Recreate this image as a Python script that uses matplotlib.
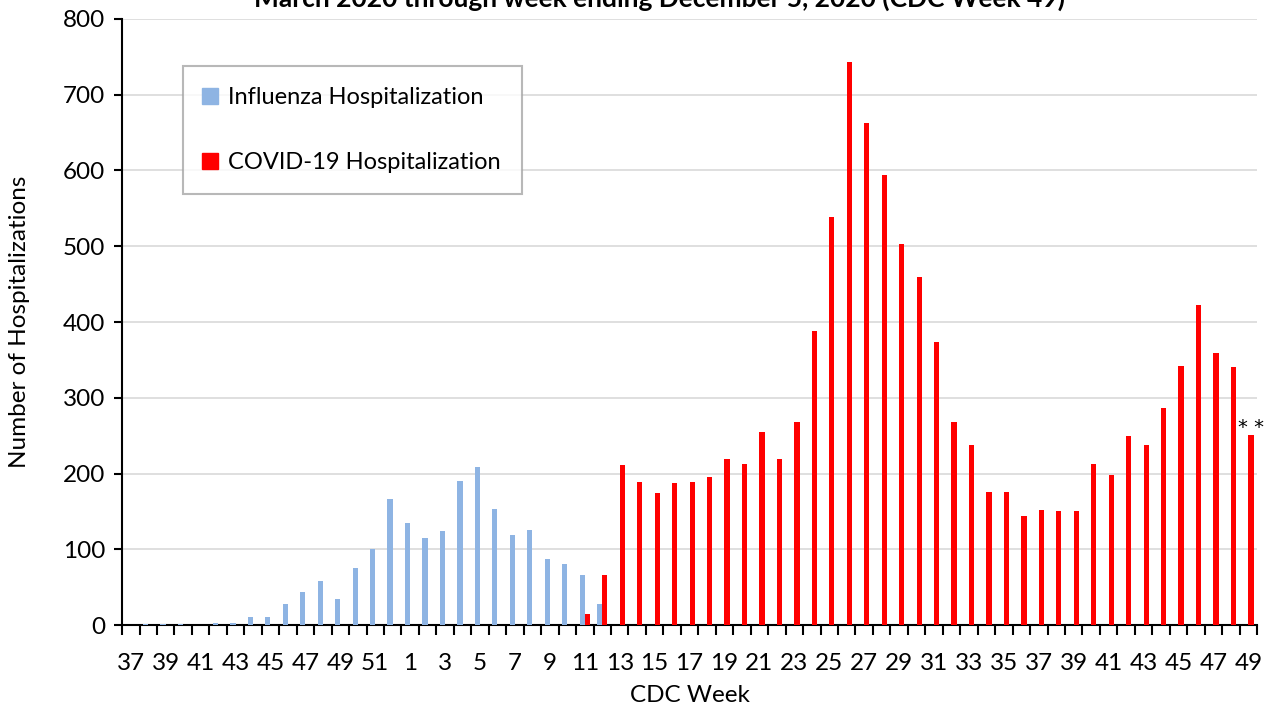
import matplotlib.pyplot as plt
import numpy as np
from matplotlib.lines import Line2D

# CDC weeks: 37-52 of 2019, then 1-49 of 2020
weeks_2019 = list(range(37, 53))
weeks_2020 = list(range(1, 50))
week_labels = [str(w) for w in weeks_2019 + weeks_2020]

# Influenza hospitalizations, week 37 (2019) through week 12 (2020)
flu_values = [0, 2, 1, 2, 0, 3, 3, 10, 10, 28, 44, 58, 34, 75, 101, 166,
              135, 115, 124, 190, 208, 153, 119, 126, 87, 80, 66, 28]

# COVID-19 hospitalizations, week 11 through week 49 (2020)
covid_first_week = 11
covid_values = [14, 66, 211, 189, 174, 187, 189, 195, 219, 212, 255, 219, 268,
                388, 539, 743, 663, 594, 503, 460, 373, 268, 237, 175, 176,
                144, 152, 151, 151, 212, 198, 250, 238, 286, 342, 423, 359,
                340, 251]

title = 'March 2020 through week ending December 5, 2020 (CDC Week 49)'

plt.rcParams['font.family'] = ['Lato', 'DejaVu Sans']

n = len(week_labels)
x = np.arange(n)
flu_x = x[:len(flu_values)]
covid_start = len(weeks_2019) + covid_first_week - 1
covid_x = x[covid_start:covid_start + len(covid_values)]

fig = plt.figure(figsize=(12.78, 7.06), dpi=100)
ax = fig.add_axes([0.0955, 0.1147, 0.8881, 0.8584])

blue = '#8EB4E3'
red = '#FF0000'
w = 0.3
ax.bar(flu_x - 0.15, flu_values, width=w, color=blue, zorder=3)
ax.bar(covid_x + 0.15, covid_values, width=w, color=red, zorder=3)

# note on the last (incomplete) week
ax.text(covid_x[-1] + 0.15, covid_values[-1] - 3, '* *', ha='center', va='bottom',
        fontsize=14, family='DejaVu Sans')

ax.set_xlim(-0.5, n - 0.5)
ax.set_ylim(0, 800)
ax.set_yticks(np.arange(0, 801, 100))
ax.yaxis.grid(True, color='#d9d9d9', linewidth=1.2, zorder=0)
ax.set_axisbelow(True)

ax.set_xticks(x[::2])
ax.set_xticklabels(week_labels[::2])
ax.set_xticks(np.arange(-0.5, n, 1), minor=True)
ax.tick_params(axis='x', which='major', length=0, pad=20, labelsize=17.5)
ax.tick_params(axis='x', which='minor', length=7, width=1.5, direction='out')
ax.tick_params(axis='y', length=6, width=1.5, labelsize=17.5, pad=6)

for side in ['top', 'right']:
    ax.spines[side].set_visible(False)
for side in ['left', 'bottom']:
    ax.spines[side].set_linewidth(1.5)

ax.set_xlabel('CDC Week', fontsize=17.5, labelpad=8)
ax.set_ylabel('Number of Hospitalizations', fontsize=17.5, labelpad=24)

handles = [Line2D([], [], marker='s', color='none', markerfacecolor=blue,
                  markeredgecolor=blue, markersize=11),
           Line2D([], [], marker='s', color='none', markerfacecolor=red,
                  markeredgecolor=red, markersize=11)]
leg = ax.legend(handles, ['Influenza Hospitalization', 'COVID-19 Hospitalization'],
                loc='upper left', bbox_to_anchor=(0.0537, 0.9224), fontsize=17,
                frameon=True, fancybox=False, edgecolor='#a6a6a6',
                handlelength=0.5, handletextpad=0.5, labelspacing=1.85,
                borderpad=0.9, borderaxespad=0)
leg.get_frame().set_linewidth(1.5)

fig.text(0.516, 1 - 7 / 706, title, ha='center', va='baseline',
         fontsize=19, fontweight='bold')

plt.savefig('out.png', dpi=100)
